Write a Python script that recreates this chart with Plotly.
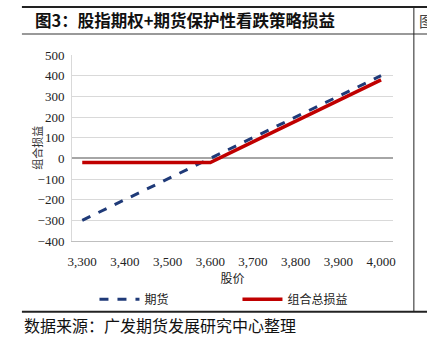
import plotly.graph_objects as go

prices = [3300, 3350, 3400, 3450, 3500, 3550, 3600, 3650, 3700, 3750, 3800, 3850, 3900, 3950, 4000]
futures_pnl = [-300, -250, -200, -150, -100, -50, 0, 50, 100, 150, 200, 250, 300, 350, 400]
combo_pnl = [-20, -20, -20, -20, -20, -20, -20, 30, 80, 130, 180, 230, 280, 330, 380]
y_ticks = [500, 400, 300, 200, 100, 0, -100, -200, -300, -400]
x_ticks = [3300, 3400, 3500, 3600, 3700, 3800, 3900, 4000]

serif = "Times New Roman, Liberation Serif, serif"
cjk = "Noto Sans CJK SC"

fig = go.Figure()
fig.add_trace(go.Scatter(x=prices, y=futures_pnl, mode="lines", name="期货",
                         line=dict(color="#1f3a78", width=3, dash="dash")))
fig.add_trace(go.Scatter(x=prices, y=combo_pnl, mode="lines", name="组合总损益",
                         line=dict(color="#c00000", width=3.5)))

fig.update_layout(
    width=427, height=337,
    margin=dict(l=72, r=34, t=55, b=96, autoexpand=False),
    paper_bgcolor="white", plot_bgcolor="white",
    showlegend=True,
    separators=".,",
    legend=dict(orientation="h", x=0.07, xanchor="left", y=-0.235, yanchor="top",
                font=dict(family=cjk, size=12, color="#222"), entrywidth=88, itemwidth=40,
                bgcolor="rgba(0,0,0,0)"),
    xaxis=dict(range=[3276, 4028], tickvals=x_ticks, tickformat=",d",
               tickfont=dict(family=serif, size=13, color="#222"),
               showgrid=False, showline=True, linecolor="#bfbfbf", linewidth=1,
               ticks="outside", ticklen=8, tickcolor="rgba(0,0,0,0)", zeroline=False,
               title=dict(text="股价", font=dict(family=cjk, size=12, color="#222"), standoff=4)),
    yaxis=dict(range=[-400, 500], tickvals=y_ticks,
               tickfont=dict(family=serif, size=13, color="#222"),
               showgrid=True, gridcolor="#d9d9d9", gridwidth=1,
               zeroline=True, zerolinecolor="#a6a6a6", zerolinewidth=1.5,
               showline=True, linecolor="#d9d9d9", ticks="outside", ticklen=4,
               tickcolor="rgba(0,0,0,0)"),
)

fig.add_annotation(text="组合损益", textangle=-90, xref="paper", yref="paper",
                   x=-0.11, y=0.5, showarrow=False, xanchor="center", yanchor="middle",
                   font=dict(family=cjk, size=11, color="#333"))

fig.add_annotation(text="<b>图3：股指期权+期货保护性看跌策略损益</b>", xref="paper", yref="paper",
                   x=-0.122, y=1.186, xanchor="left", yanchor="middle", showarrow=False,
                   font=dict(family=cjk, size=16.5, color="#111"))
fig.add_annotation(text="图", xref="paper", yref="paper",
                   x=1.074, y=1.186, xanchor="left", yanchor="middle", showarrow=False,
                   font=dict(family=cjk, size=15, color="#444"))
fig.add_annotation(text="数据来源：广发期货发展研究中心整理", xref="paper", yref="paper",
                   x=-0.156, y=-0.45, xanchor="left", yanchor="middle", showarrow=False,
                   font=dict(family=cjk, size=16, color="#111"))

# frame lines
fig.add_shape(type="line", xref="paper", yref="paper", x0=-0.156, x1=1.11, y0=1.258, y1=1.258,
              line=dict(color="#222", width=2))
fig.add_shape(type="line", xref="paper", yref="paper", x0=-0.156, x1=1.11, y0=1.113, y1=1.113,
              line=dict(color="#999", width=2))
fig.add_shape(type="line", xref="paper", yref="paper", x0=-0.156, x1=1.11, y0=-0.38, y1=-0.38,
              line=dict(color="#222", width=2))
fig.add_shape(type="line", xref="paper", yref="paper", x0=1.065, x1=1.065, y0=-0.38, y1=1.258,
              line=dict(color="#222", width=1))

fig.write_html("out.html")
